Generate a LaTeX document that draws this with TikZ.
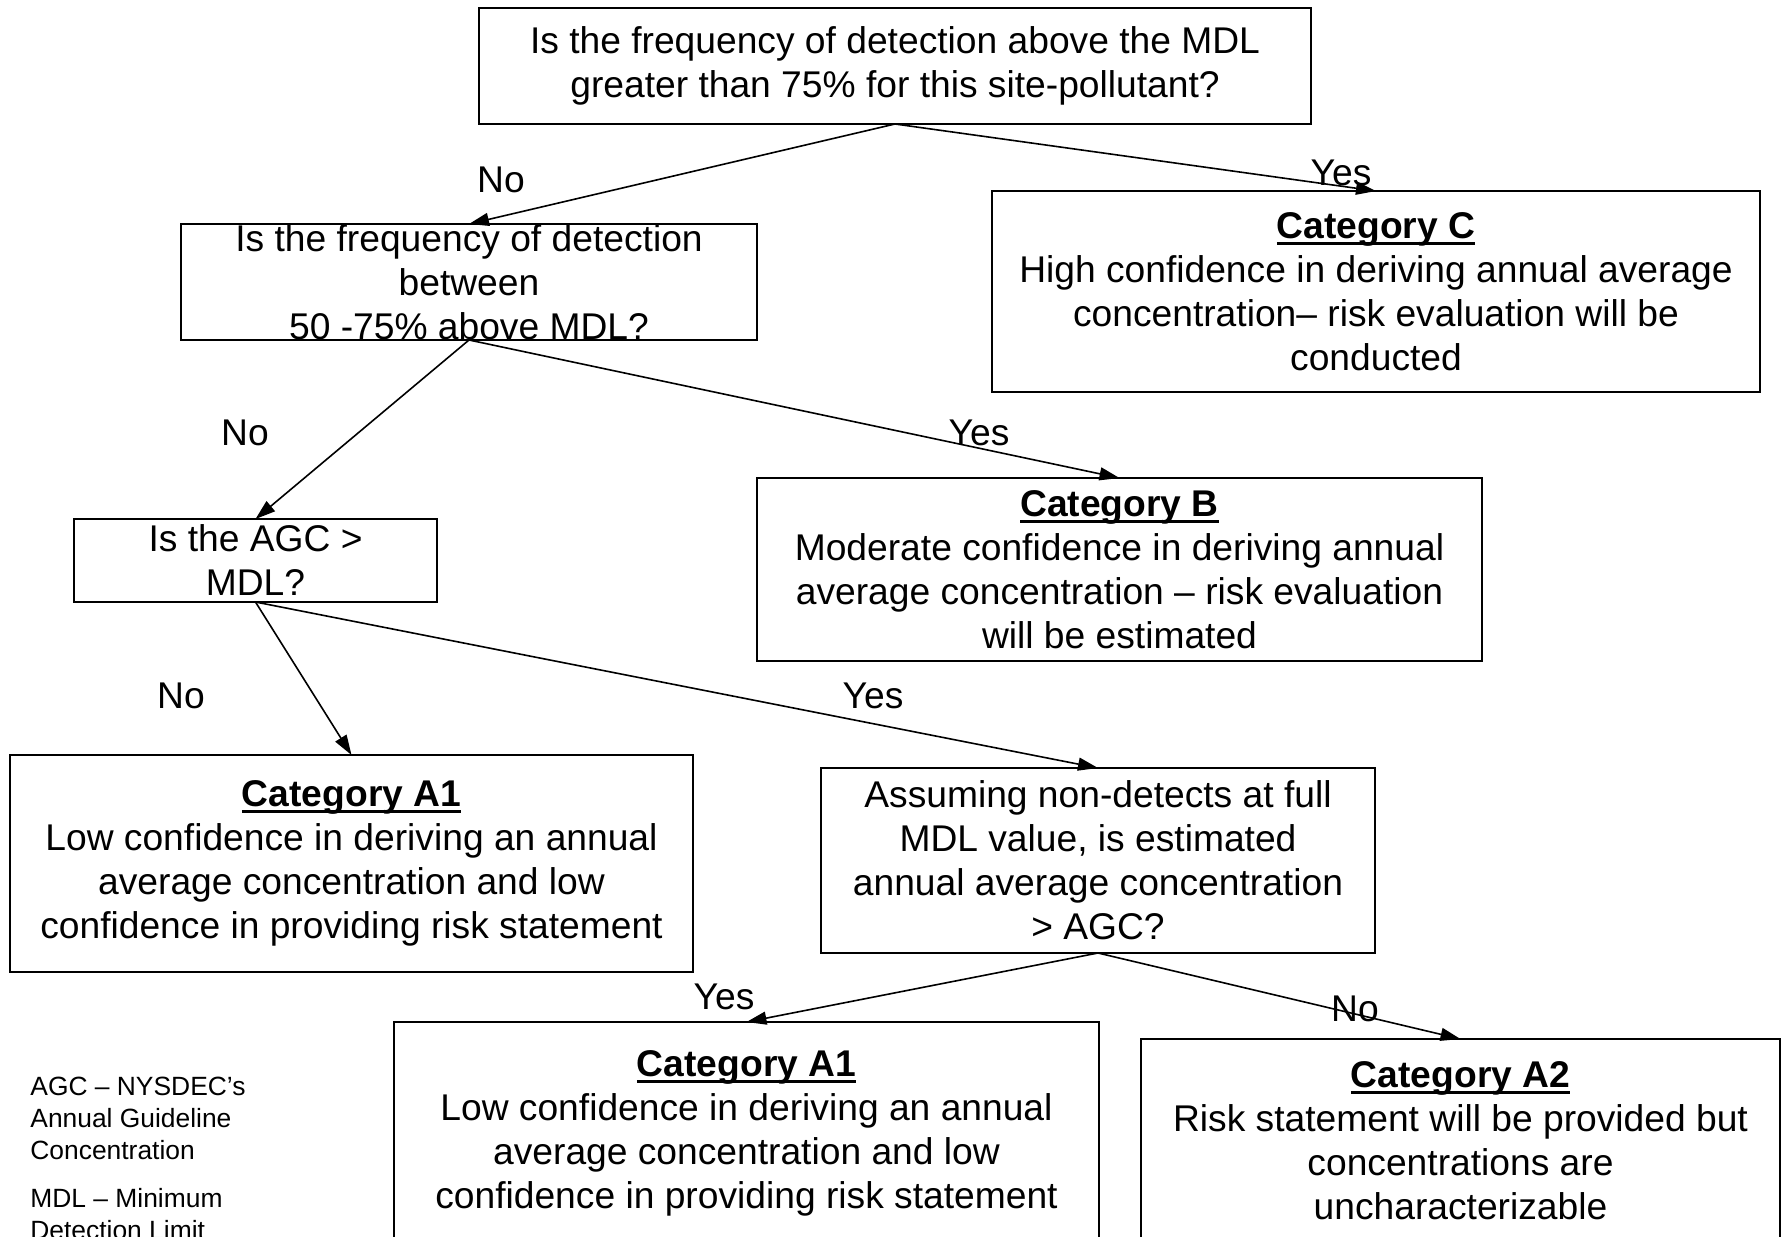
\documentclass[tikz,border=0pt]{standalone}
\usepackage{fontspec}
\setmainfont{Liberation Sans}
\usetikzlibrary{arrows.meta,positioning}

% bold underlined heading of a category box
\newcommand{\cattitle}[1]{\leavevmode\setbox0=\hbox{\bfseries #1}\rlap{\rule[-3.2pt]{\wd0}{1.4pt}}\box0}

\begin{document}
\begin{tikzpicture}[x=0.5pt,y=-0.5pt,
    every node/.style={font=\fontsize{18.6}{22}\selectfont},
    box/.style={draw=black, line width=0.9pt, inner sep=0pt, outer sep=0pt, align=center},
    txt/.style={inner sep=0pt, align=center},
    lbl/.style={inner sep=0pt},
    legend/.style={inner sep=0pt, align=left, font=\fontsize{13.2}{16}\selectfont},
    arr/.style={-{Triangle[length=10pt,width=6.5pt]}, line width=0.8pt}]
    \useasboundingbox (0,0) rectangle (1785,1237);
    \clip (0,0) rectangle (1785,1237);

    % questions
    \node[box, minimum width=416pt, minimum height=58pt] (q1) at (895,66)
        {Is the frequency of detection above the MDL\\greater than 75\% for this site-pollutant?};
    \node[box, minimum width=288pt, minimum height=58pt] (q2) at (469,282) {};
    \node[txt] (q2txt) at (q2.center)
        {Is the frequency of detection\\between\\50 -75\% above MDL?};
    \node[box, minimum width=181.5pt, minimum height=41.5pt] (q3) at (255.5,560.5) {};
    \node[txt] (q3txt) at (q3.center) {Is the AGC >\\MDL?};
    \node[box, minimum width=277pt, minimum height=92.5pt] (q4) at (1098,860.5)
        {Assuming non-detects at full\\MDL value, is estimated\\annual average concentration\\> AGC?};

    % categories
    \node[box, minimum width=384pt, minimum height=100.5pt] (catC) at (1376,291.5)
        {\cattitle{Category C}\\High confidence in deriving annual average\\concentration– risk evaluation will be\\conducted};
    \node[box, minimum width=362.5pt, minimum height=91.5pt] (catB) at (1119.5,569.5)
        {\cattitle{Category B}\\Moderate confidence in deriving annual\\average concentration – risk evaluation\\will be estimated};
    \node[box, minimum width=341.5pt, minimum height=108.5pt] (catAa) at (351.5,863.5)
        {\cattitle{Category A1}\\Low confidence in deriving an annual\\average concentration and low\\confidence in providing risk statement};
    \node[box, minimum width=352.5pt, minimum height=111.5pt] (catAb) at (746.5,1133.5)
        {\cattitle{Category A1}\\Low confidence in deriving an annual\\average concentration and low\\confidence in providing risk statement};
    \node[box, minimum width=319.5pt, minimum height=102pt] (catA2) at (1460.5,1141)
        {\cattitle{Category A2}\\Risk statement will be provided but\\concentrations are\\uncharacterizable};

    % connectors
    \draw[arr] (q1.south) -- (q2.north);
    \draw[arr] (q1.south) -- (catC.north);
    \draw[arr] (q2.south) -- (q3.north);
    \draw[arr] (q2.south) -- (catB.north);
    \draw[arr] (q3.south) -- (catAa.north);
    \draw[arr] (q3.south) -- (q4.north);
    \draw[arr] (q4.south) -- (catAb.north);
    \draw[arr] (q4.south) -- (catA2.north);

    % answers
    \node[lbl] (no1) at (501,180) {No};
    \node[lbl] (yes1) at (1341,173) {Yes};
    \node[lbl] (no2) at (245,433) {No};
    \node[lbl] (yes2) at (979,433) {Yes};
    \node[lbl] (no3) at (181,696) {No};
    \node[lbl] (yes3) at (873,696) {Yes};
    \node[lbl] (yes4) at (724,997) {Yes};
    \node[lbl] (no4) at (1355,1009) {No};

    % abbreviations
    \node[legend, anchor=north west] (key) at (30,1077)
        {AGC – NYSDEC’s\\Annual Guideline\\Concentration\\[8pt]MDL – Minimum\\Detection Limit};
\end{tikzpicture}
\end{document}
